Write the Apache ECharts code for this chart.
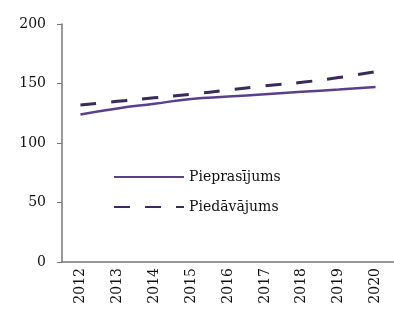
<!DOCTYPE html>
<html lang="lv">
  <head>
    <meta charset="UTF-8" />
    <title>ECharts</title>
    <script src="https://cdn.jsdelivr.net/npm/echarts@6/dist/echarts.min.js"></script>
  </head>
  <body style="margin: 0">
    <div id="main" style="width: 394px; height: 309px"></div>
    <script type="text/javascript">
      var years = ["2012", "2013", "2014", "2015", "2016", "2017", "2018", "2019", "2020"];
      var pieprasijums = [124, 129, 133, 137, 139, 141, 143, 145, 147];
      var piedavajums = [132, 135, 138, 141, 144.5, 148, 151, 155, 160];
      var yTicks = [0, 50, 100, 150, 200];

      var myChart = echarts.init(document.getElementById("main"));
      var font = "'DejaVu Serif', 'Liberation Serif', serif";

      var option = {
        animation: false,
        textStyle: { fontFamily: font },
        grid: { left: 62, right: -4, top: 24, bottom: 47 },
        legend: {
          orient: "vertical",
          left: 108,
          top: 165,
          itemWidth: 70,
          itemHeight: 12,
          itemGap: 16,
          itemStyle: { opacity: 0 },
          textStyle: { fontFamily: font, fontSize: 14, color: "#111" },
          data: ["Pieprasījums", "Piedāvājums"],
        },
        xAxis: {
          type: "category",
          data: years,
          axisLine: { lineStyle: { color: "#777", width: 1.5 } },
          axisTick: { show: false },
          axisLabel: { rotate: 90, color: "#111", fontSize: 14, fontFamily: font, margin: 6 },
        },
        yAxis: {
          type: "value",
          min: yTicks[0],
          max: yTicks[yTicks.length - 1],
          interval: 50,
          splitLine: { show: false },
          axisLine: { show: true, lineStyle: { color: "#777", width: 1.5 } },
          axisTick: { show: true, length: 5, lineStyle: { color: "#777" } },
          axisLabel: { color: "#111", fontSize: 14, fontFamily: font, margin: 16 },
        },
        series: [
          {
            name: "Pieprasījums",
            type: "line",
            data: pieprasijums,
            smooth: true,
            symbol: "none",
            lineStyle: { color: "#5b3f8e", width: 2.5 },
            itemStyle: { color: "#5b3f8e" },
          },
          {
            name: "Piedāvājums",
            type: "line",
            data: piedavajums,
            smooth: true,
            symbol: "none",
            lineStyle: { color: "#3b2a5c", width: 3, type: [16, 15] },
            itemStyle: { color: "#3b2a5c" },
          },
        ],
      };

      myChart.setOption(option);
    </script>
  </body>
</html>
